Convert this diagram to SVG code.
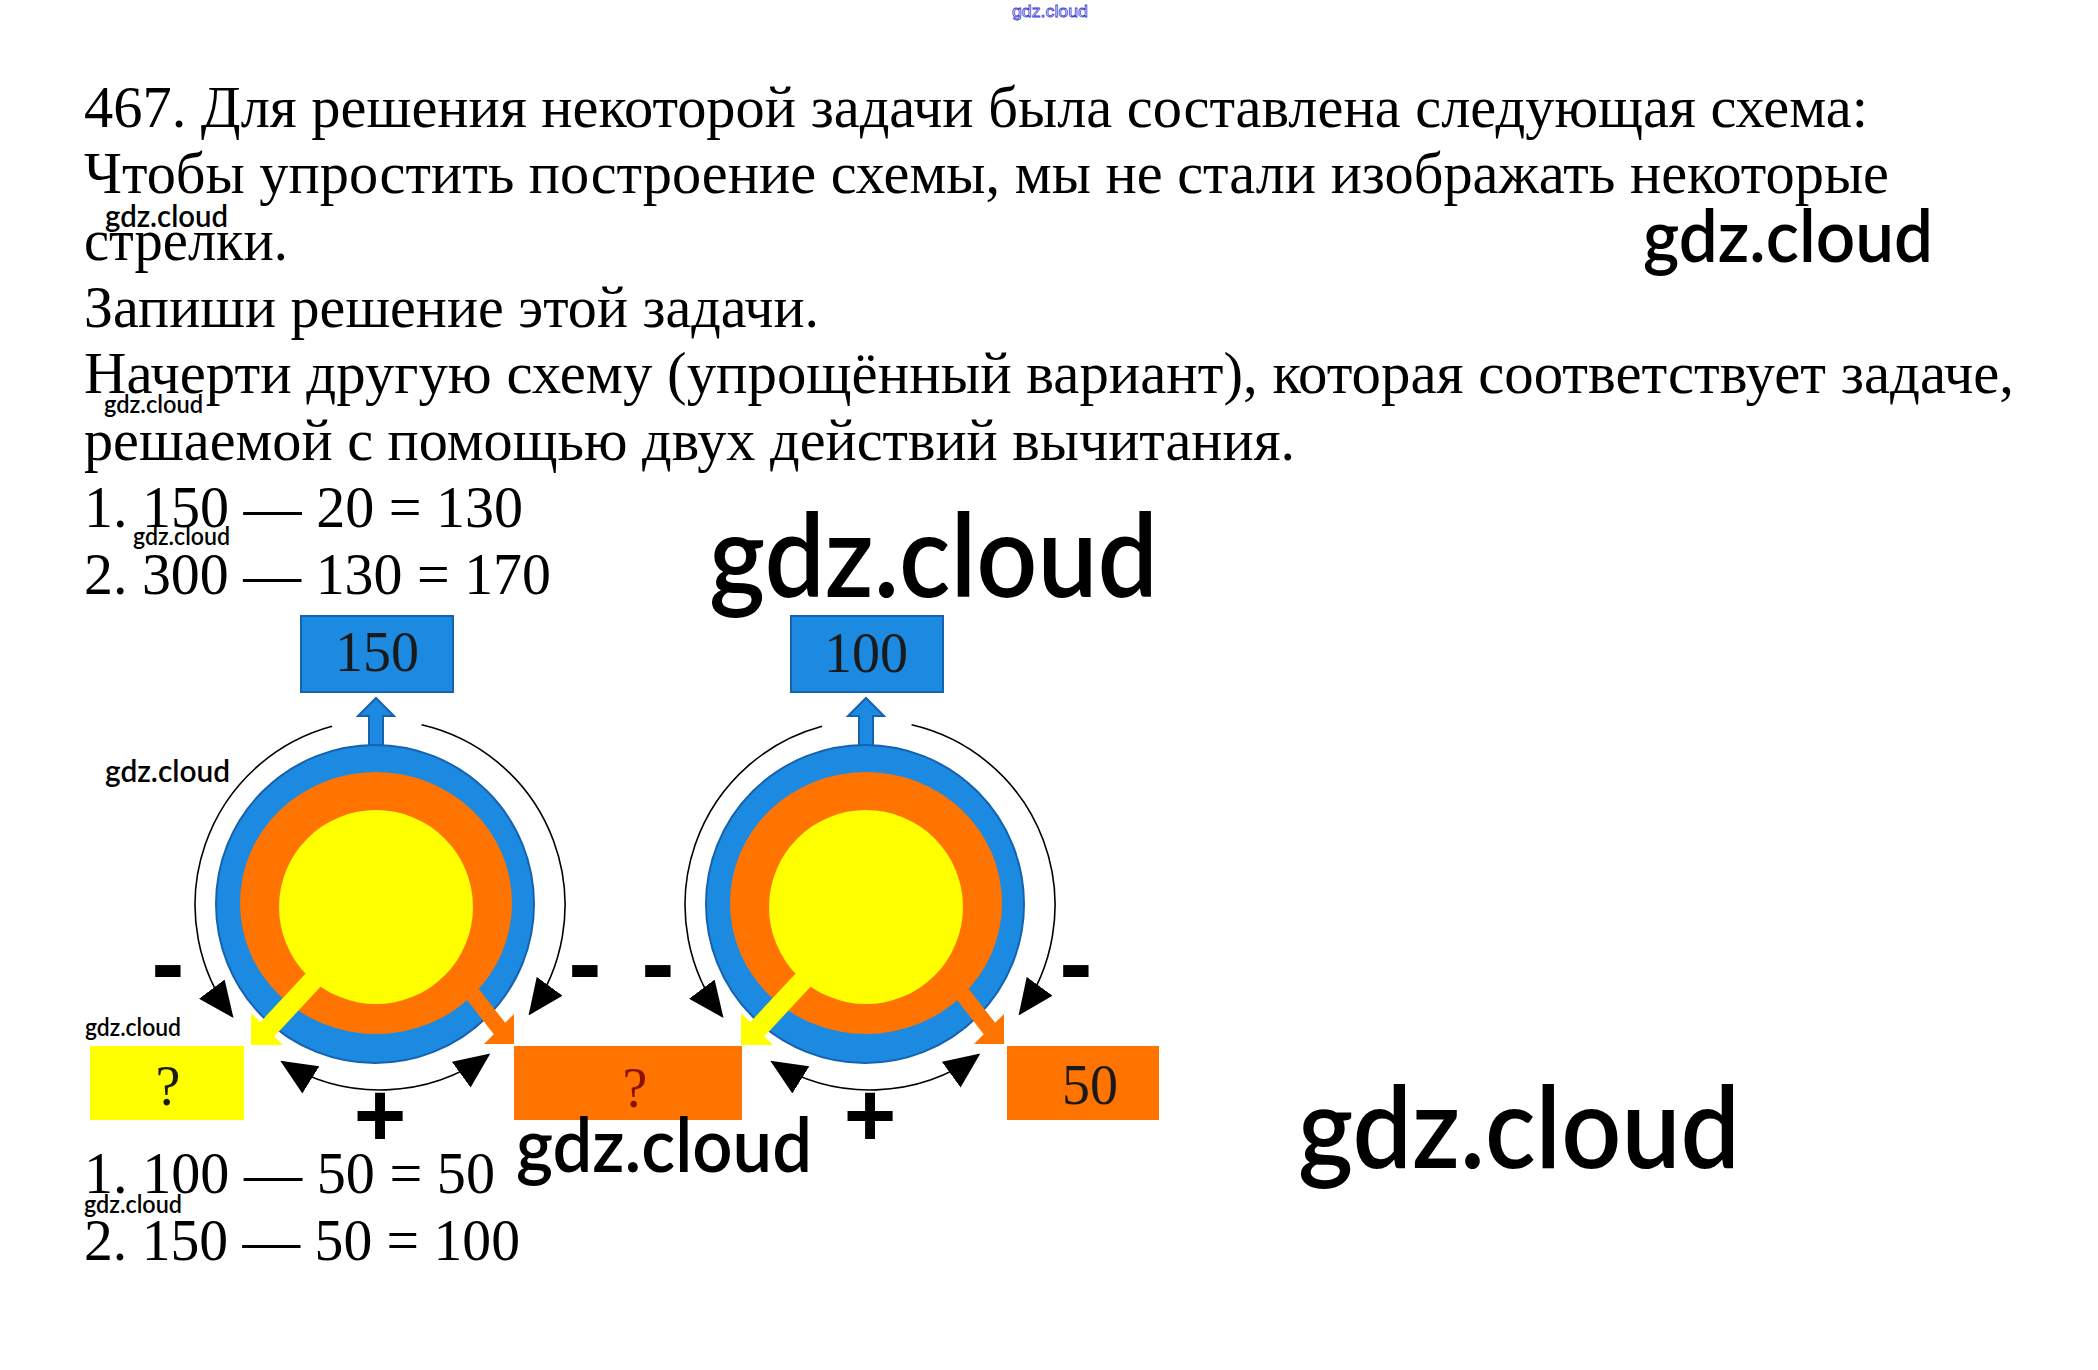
<svg xmlns="http://www.w3.org/2000/svg" width="2098" height="1370" viewBox="0 0 2098 1370">
  <style>
    .t { font-family: "Liberation Serif", "Times New Roman", serif; font-size: 60px; fill: #000; }
    .num { font-family: "Liberation Serif", "Times New Roman", serif; font-size: 56px; fill: #1a1a1a; text-anchor: middle; }
    .wm { font-family: Lato, "Open Sans", sans-serif; font-weight: 600; fill: #000; }
    .sign { font-family: "Liberation Sans", Arial, sans-serif; font-weight: bold; fill: #000; text-anchor: middle; }
    .blue { fill: #1c8ae0; stroke: #1562b0; stroke-width: 2; }
    .orange { fill: #ff7400; }
    .yellow { fill: #ffff00; }
    .arc { fill: none; stroke: #000; stroke-width: 1.6; }
  </style>
  <defs>
    <marker id="ah" viewBox="0 0 36 32" refX="34" refY="16" markerWidth="36" markerHeight="32" markerUnits="userSpaceOnUse" orient="auto-start-reverse">
      <path d="M0,0 L36,16 L0,32 z" fill="#000"/>
    </marker>
  </defs>
  <rect width="2098" height="1370" fill="#fff"/>

  <!-- Task text -->
  <g id="task-text">
    <text class="t" x="84" y="127" textLength="1784" lengthAdjust="spacingAndGlyphs">467. Для решения некоторой задачи была составлена следующая схема:</text>
    <text class="t" x="84" y="193" textLength="1805" lengthAdjust="spacingAndGlyphs">Чтобы упростить построение схемы, мы не стали изображать некоторые</text>
    <text class="t" x="84" y="260" textLength="204" lengthAdjust="spacingAndGlyphs">стрелки.</text>
    <text class="t" x="84" y="327" textLength="735" lengthAdjust="spacingAndGlyphs">Запиши решение этой задачи.</text>
    <text class="t" x="84" y="393" textLength="1930" lengthAdjust="spacingAndGlyphs">Начерти другую схему (упрощённый вариант), которая соответствует задаче,</text>
    <text class="t" x="84" y="460" textLength="1211" lengthAdjust="spacingAndGlyphs">решаемой с помощью двух действий вычитания.</text>
    <text class="t" x="84" y="527" textLength="439" lengthAdjust="spacingAndGlyphs">1. 150 — 20 = 130</text>
    <text class="t" x="84" y="594" textLength="467" lengthAdjust="spacingAndGlyphs">2. 300 — 130 = 170</text>
    <text class="t" x="84" y="1193" textLength="411" lengthAdjust="spacingAndGlyphs">1. 100 — 50 = 50</text>
    <text class="t" x="84" y="1260" textLength="436" lengthAdjust="spacingAndGlyphs">2. 150 — 50 = 100</text>
  </g>

  <!-- Connectors: arcs and up arrows -->
  <g id="connectors">
    <!-- left diagram -->
    <path class="arc" d="M332.1,726.3 A185,185 0 0 0 232.3,1016.3" marker-end="url(#ah)"/>
    <path class="arc" d="M421.6,724.8 A185,185 0 0 1 529.7,1013.8" marker-end="url(#ah)"/>
    <path class="arc" d="M282,1061.9 A185,185 0 0 0 488.7,1054.7" marker-start="url(#ah)" marker-end="url(#ah)"/>
    <polygon class="blue" stroke-width="1.5" points="369,750 369,716 358,716 376,698 394,716 383,716 383,750"/>
    <!-- right diagram -->
    <path class="arc" d="M822.1,726.3 A185,185 0 0 0 722.3,1016.3" marker-end="url(#ah)"/>
    <path class="arc" d="M911.6,724.8 A185,185 0 0 1 1019.7,1013.8" marker-end="url(#ah)"/>
    <path class="arc" d="M772,1061.9 A185,185 0 0 0 978.7,1054.7" marker-start="url(#ah)" marker-end="url(#ah)"/>
    <polygon class="blue" stroke-width="1.5" points="859,750 859,716 848,716 866,698 884,716 873,716 873,750"/>
  </g>

  <!-- Left circle -->
  <g id="circle-left">
    <circle class="blue" cx="375" cy="904" r="159"/>
    <ellipse class="orange" cx="376" cy="903" rx="136" ry="131"/>
    <circle class="yellow" cx="376" cy="907" r="97"/>
  </g>
  <!-- Right circle -->
  <g id="circle-right">
    <circle class="blue" cx="865" cy="904" r="159"/>
    <ellipse class="orange" cx="866" cy="903" rx="136" ry="131"/>
    <circle class="yellow" cx="866" cy="907" r="97"/>
  </g>

  <!-- Thick arrows out of circles -->
  <g id="part-arrows">
    <line x1="330" y1="962" x2="262" y2="1035" stroke="#ffff00" stroke-width="20"/>
    <polygon class="yellow" points="251,1045 251,1013 283,1045"/>
    <line x1="460" y1="978" x2="503" y2="1033" stroke="#ff7400" stroke-width="16"/>
    <polygon class="orange" points="514,1044 514,1014 484,1044"/>
    <line x1="820" y1="962" x2="752" y2="1035" stroke="#ffff00" stroke-width="20"/>
    <polygon class="yellow" points="741,1045 741,1013 773,1045"/>
    <line x1="950" y1="978" x2="993" y2="1033" stroke="#ff7400" stroke-width="16"/>
    <polygon class="orange" points="1004,1044 1004,1014 974,1044"/>
  </g>

  <!-- Boxes -->
  <g id="box-150">
    <rect class="blue" x="301" y="616" width="152" height="76"/>
    <text class="num" x="377" y="671">150</text>
  </g>
  <g id="box-100">
    <rect class="blue" x="791" y="616" width="152" height="76"/>
    <text class="num" x="866" y="672">100</text>
  </g>
  <g id="box-yellow-q">
    <rect class="yellow" x="90" y="1046" width="154" height="74"/>
    <text class="num" x="168" y="1105">?</text>
  </g>
  <g id="box-orange-q">
    <rect class="orange" x="514" y="1046" width="228" height="74"/>
    <text class="num" x="635" y="1107" style="fill:#8a1200">?</text>
  </g>
  <g id="box-50">
    <rect class="orange" x="1007" y="1046" width="152" height="74"/>
    <text class="num" x="1090" y="1104">50</text>
  </g>

  <!-- Signs -->
  <g id="signs">
    <text class="sign" x="168" y="997" font-size="100">-</text>
    <text class="sign" x="585" y="997" font-size="100">-</text>
    <text class="sign" x="658" y="997" font-size="100">-</text>
    <text class="sign" x="1076" y="997" font-size="100">-</text>
    <text class="sign" x="380" y="1146" font-size="90">+</text>
    <text class="sign" x="870" y="1146" font-size="90">+</text>
  </g>

  <!-- Watermarks -->
  <g id="watermarks">
    <text x="1012" y="17" font-family="'Liberation Sans Narrow','Liberation Sans',sans-serif" font-size="17" fill="#fff" stroke="#3d3dd6" stroke-width="0.8" textLength="76" lengthAdjust="spacingAndGlyphs">gdz.cloud</text>
    <text class="wm" x="105" y="227" font-size="30" textLength="123" lengthAdjust="spacingAndGlyphs">gdz.cloud</text>
    <text class="wm" x="1643" y="262" font-size="74" textLength="290" lengthAdjust="spacingAndGlyphs">gdz.cloud</text>
    <text class="wm" x="104" y="413" font-size="25" textLength="99" lengthAdjust="spacingAndGlyphs">gdz.cloud</text>
    <text class="wm" x="133" y="545" font-size="25" textLength="97" lengthAdjust="spacingAndGlyphs">gdz.cloud</text>
    <text class="wm" x="709" y="597" font-size="115" textLength="449" lengthAdjust="spacingAndGlyphs">gdz.cloud</text>
    <text class="wm" x="105" y="782" font-size="31" textLength="125" lengthAdjust="spacingAndGlyphs">gdz.cloud</text>
    <text class="wm" x="85" y="1036" font-size="25" textLength="96" lengthAdjust="spacingAndGlyphs">gdz.cloud</text>
    <text class="wm" x="516" y="1172" font-size="75" textLength="296" lengthAdjust="spacingAndGlyphs">gdz.cloud</text>
    <text class="wm" x="84" y="1213" font-size="25" textLength="98" lengthAdjust="spacingAndGlyphs">gdz.cloud</text>
    <text class="wm" x="1298" y="1168" font-size="113" textLength="442" lengthAdjust="spacingAndGlyphs">gdz.cloud</text>
  </g>
</svg>
